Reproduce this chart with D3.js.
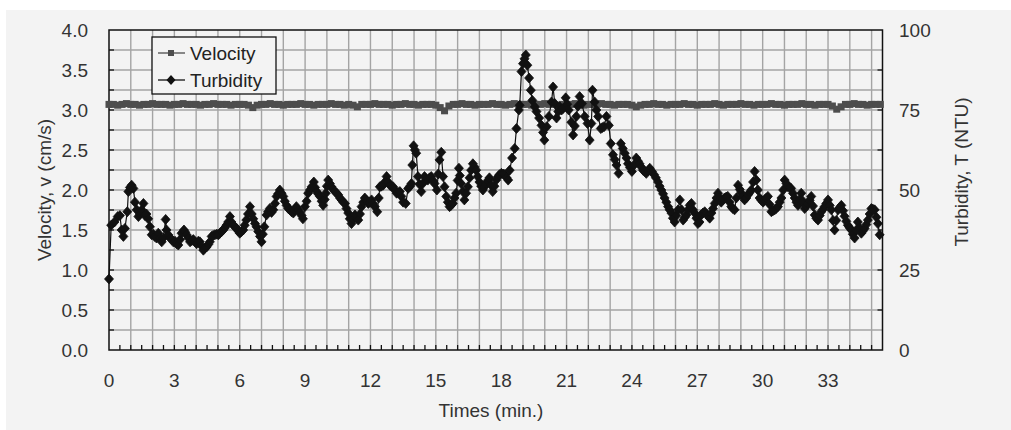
<!DOCTYPE html>
<html>
<head>
<meta charset="utf-8">
<script src="https://cdn.jsdelivr.net/npm/d3@7"></script>
<style>
  body { margin: 0; background: #fff; }
  svg text { font-family: "Liberation Sans", Arial, sans-serif; }
</style>
</head>
<body>
<svg id="chart"></svg>
<script>
// tick labels
const timeTicks = [0, 3, 6, 9, 12, 15, 18, 21, 24, 27, 30, 33];
const velocityTicks = [0, 0.5, 1, 1.5, 2, 2.5, 3, 3.5, 4];
const turbidityTicks = [0, 25, 50, 75, 100];

// velocity, sampled every 0.2 min
const velocityStart = 0;
const velocityStep = 0.2;
const velocityValues = [
  3.07, 3.07, 3.06, 3.07, 3.08, 3.07, 3.07, 3.06, 3.07, 3.07,
  3.08, 3.07, 3.07, 3.07, 3.06, 3.07, 3.07, 3.08, 3.07, 3.07,
  3.07, 3.06, 3.07, 3.07, 3.08, 3.07, 3.07, 3.07, 3.06, 3.07,
  3.07, 3.07, 3.06, 3.03, 3.06, 3.07, 3.07, 3.08, 3.07, 3.07,
  3.06, 3.07, 3.07, 3.07, 3.08, 3.07, 3.07, 3.06, 3.07, 3.07,
  3.07, 3.08, 3.07, 3.07, 3.06, 3.07, 3.06, 3.04, 3.07, 3.07,
  3.07, 3.08, 3.07, 3.07, 3.07, 3.06, 3.07, 3.07, 3.08, 3.07,
  3.07, 3.06, 3.07, 3.07, 3.07, 3.06, 3.03, 2.99, 3.05, 3.07,
  3.07, 3.08, 3.07, 3.07, 3.06, 3.07, 3.07, 3.07, 3.08, 3.07,
  3.07, 3.06, 3.07, 3.08, 3.07, 3.07, 3.07, 3.06, 3.07, 3.07,
  3.08, 3.07, 3.07, 3.06, 3.07, 3.07, 3.07, 3.08, 3.07, 3.06,
  3.07, 3.07, 3.07, 3.08, 3.07, 3.07, 3.06, 3.07, 3.07, 3.07,
  3.06, 3.04, 3.06, 3.07, 3.07, 3.08, 3.07, 3.07, 3.06, 3.07,
  3.07, 3.07, 3.08, 3.07, 3.07, 3.06, 3.07, 3.07, 3.07, 3.08,
  3.07, 3.06, 3.07, 3.07, 3.07, 3.08, 3.07, 3.07, 3.06, 3.07,
  3.07, 3.07, 3.08, 3.07, 3.07, 3.06, 3.07, 3.07, 3.07, 3.08,
  3.07, 3.07, 3.06, 3.07, 3.07, 3.07, 3.05, 3.01, 3.04, 3.07,
  3.07, 3.08, 3.07, 3.07, 3.06, 3.07, 3.07, 3.07
];

// turbidity (NTU)
const turbidityTimes = [
  0.0, 0.1, 0.25, 0.4, 0.5, 0.58, 0.66, 0.73, 0.84, 0.89, 0.96, 1.04, 1.12, 1.19, 1.27, 1.35, 1.42, 1.5, 1.58, 1.65,
  1.72, 1.8, 1.88, 1.96, 2.03, 2.1, 2.18, 2.26, 2.34, 2.42, 2.49, 2.6, 2.64, 2.72, 2.8, 2.88, 2.95, 3.03, 3.1, 3.18,
  3.26, 3.33, 3.44, 3.5, 3.56, 3.64, 3.72, 3.8, 3.87, 3.95, 4.02, 4.1, 4.17, 4.25, 4.33, 4.4, 4.48, 4.56, 4.63, 4.71,
  4.78, 4.86, 4.95, 5.02, 5.09, 5.17, 5.24, 5.32, 5.39, 5.47, 5.55, 5.62, 5.7, 5.78, 5.86, 5.93, 6.0, 6.08, 6.16, 6.23,
  6.3, 6.38, 6.47, 6.55, 6.62, 6.7, 6.77, 6.85, 6.93, 7.0, 7.06, 7.13, 7.23, 7.3, 7.38, 7.46, 7.54, 7.62, 7.69, 7.76,
  7.84, 7.92, 8.0, 8.07, 8.15, 8.23, 8.3, 8.38, 8.46, 8.53, 8.6, 8.68, 8.76, 8.84, 8.9, 8.99, 9.07, 9.14, 9.22, 9.3,
  9.4, 9.46, 9.53, 9.6, 9.68, 9.76, 9.83, 9.9, 9.95, 10.0, 10.06, 10.14, 10.21, 10.29, 10.37, 10.45, 10.52, 10.6, 10.67, 10.75,
  10.83, 10.9, 10.98, 11.05, 11.13, 11.21, 11.29, 11.36, 11.44, 11.52, 11.59, 11.67, 11.74, 11.82, 11.9, 11.97, 12.05, 12.12, 12.2, 12.31,
  12.38, 12.43, 12.5, 12.58, 12.66, 12.74, 12.81, 12.89, 12.96, 13.04, 13.12, 13.2, 13.27, 13.35, 13.42, 13.5, 13.62, 13.73, 13.82, 13.88,
  13.92, 13.98, 14.04, 14.1, 14.18, 14.25, 14.33, 14.4, 14.48, 14.56, 14.63, 14.71, 14.79, 14.86, 14.94, 15.05, 15.11, 15.17, 15.25, 15.33,
  15.4, 15.48, 15.55, 15.63, 15.7, 15.78, 15.86, 15.93, 16.0, 16.06, 16.1, 16.16, 16.24, 16.31, 16.39, 16.47, 16.55, 16.62, 16.7, 16.78,
  16.85, 16.92, 17.0, 17.08, 17.16, 17.23, 17.31, 17.39, 17.46, 17.54, 17.61, 17.69, 17.77, 17.86, 17.92, 18.01, 18.1, 18.17, 18.25, 18.32,
  18.39, 18.5, 18.62, 18.7, 18.81, 18.85, 18.93, 19.0, 19.07, 19.13, 19.2, 19.28, 19.36, 19.43, 19.54, 19.62, 19.74, 19.85, 19.92, 19.98,
  20.09, 20.19, 20.31, 20.38, 20.46, 20.54, 20.62, 20.69, 20.77, 20.84, 20.96, 21.03, 21.1, 21.22, 21.3, 21.38, 21.45, 21.52, 21.6, 21.71,
  21.83, 21.96, 22.06, 22.14, 22.19, 22.29, 22.37, 22.45, 22.57, 22.64, 22.72, 22.83, 22.94, 23.03, 23.13, 23.21, 23.29, 23.39, 23.49, 23.58,
  23.67, 23.75, 23.82, 23.91, 24.0, 24.1, 24.2, 24.28, 24.35, 24.43, 24.51, 24.58, 24.66, 24.74, 24.82, 24.92, 25.02, 25.1, 25.2, 25.27,
  25.35, 25.43, 25.5, 25.58, 25.66, 25.73, 25.81, 25.88, 25.96, 26.04, 26.12, 26.2, 26.28, 26.35, 26.43, 26.5, 26.58, 26.65, 26.73, 26.8,
  26.88, 26.96, 27.03, 27.1, 27.18, 27.26, 27.34, 27.42, 27.5, 27.57, 27.65, 27.72, 27.8, 27.88, 27.95, 28.03, 28.1, 28.18, 28.25, 28.33,
  28.4, 28.48, 28.56, 28.63, 28.71, 28.79, 28.87, 28.95, 29.02, 29.1, 29.17, 29.25, 29.33, 29.4, 29.48, 29.56, 29.63, 29.71, 29.78, 29.86,
  29.94, 30.02, 30.1, 30.17, 30.24, 30.32, 30.4, 30.47, 30.55, 30.62, 30.7, 30.78, 30.86, 30.94, 31.01, 31.09, 31.16, 31.24, 31.31, 31.39,
  31.47, 31.55, 31.62, 31.7, 31.77, 31.85, 31.93, 32.0, 32.08, 32.16, 32.23, 32.31, 32.39, 32.46, 32.54, 32.62, 32.69, 32.77, 32.84, 32.92,
  33.0, 33.08, 33.15, 33.23, 33.3, 33.38, 33.46, 33.53, 33.61, 33.69, 33.76, 33.84, 33.91, 33.99, 34.07, 34.14, 34.22, 34.3, 34.37, 34.45,
  34.53, 34.6, 34.68, 34.76, 34.83, 34.91, 34.99, 35.06, 35.14, 35.22, 35.29, 35.37
];
const turbidityValues = [
  22.2, 39.0, 40.0, 41.7, 42.0, 37.5, 35.5, 38.0, 43.2, 49.5, 50.8, 51.5, 50.5, 46.2, 43.8, 41.7, 42.5, 43.8, 45.8, 42.0,
  42.5, 41.0, 38.5, 36.0, 36.2, 35.5, 35.0, 36.5, 35.0, 33.8, 35.0, 40.8, 37.5, 36.0, 35.0, 34.5, 33.8, 34.0, 33.2, 32.8,
  34.5, 36.5, 37.5, 36.8, 36.0, 35.0, 33.8, 34.2, 34.5, 33.8, 33.2, 34.0, 33.8, 32.5, 31.2, 31.8, 32.2, 33.0, 33.8, 35.5,
  35.8, 36.0, 36.2, 36.0, 36.5, 37.0, 37.5, 38.2, 39.0, 40.0, 41.7, 40.0, 39.0, 38.5, 38.0, 37.2, 36.5, 37.0, 37.5, 39.0,
  40.6, 42.5, 44.8, 42.5, 41.0, 39.5, 38.5, 37.0, 35.5, 33.8, 36.2, 38.5, 42.2, 43.2, 44.2, 43.0, 43.8, 45.8, 48.0, 48.8,
  50.0, 49.0, 48.0, 46.5, 45.2, 44.2, 43.8, 43.2, 42.8, 44.0, 44.8, 43.8, 43.0, 42.0, 41.0, 44.8, 46.5, 49.0, 50.0, 51.0,
  52.5, 50.8, 49.5, 48.8, 48.0, 46.5, 45.2, 47.0, 49.0, 51.2, 53.1, 52.0, 51.0, 50.2, 49.5, 49.0, 48.5, 47.5, 46.9, 46.2,
  45.8, 44.2, 42.8, 41.0, 39.5, 41.0, 42.2, 41.2, 40.6, 42.5, 44.8, 46.2, 47.5, 46.8, 45.8, 46.2, 46.9, 45.8, 44.8, 43.2,
  47.5, 51.0, 51.2, 51.5, 52.5, 54.2, 52.5, 51.5, 51.2, 51.0, 50.0, 49.0, 49.2, 49.5, 48.0, 46.2, 45.8, 50.5, 51.2, 52.0,
  57.8, 63.8, 62.5, 61.5, 54.2, 51.8, 49.5, 52.0, 54.2, 53.5, 53.1, 53.8, 54.2, 53.0, 52.0, 50.0, 55.0, 59.4, 61.8, 54.2,
  51.0, 48.0, 46.2, 44.8, 45.2, 45.8, 47.5, 49.0, 53.0, 56.8, 54.5, 52.0, 49.5, 46.9, 49.0, 51.0, 53.8, 56.2, 58.2, 57.2,
  56.2, 54.2, 52.5, 51.2, 50.0, 51.0, 52.0, 53.0, 53.8, 51.5, 49.5, 51.2, 53.1, 54.2, 54.8, 55.2, 55.0, 54.8, 53.8, 53.1,
  56.2, 60.0, 63.0, 69.2, 75.0, 76.5, 87.0, 89.5, 91.0, 92.2, 89.0, 85.0, 81.2, 78.0, 76.0, 74.5, 72.5, 70.2, 68.0, 65.6,
  69.8, 73.0, 77.5, 82.2, 77.0, 72.5, 74.5, 76.0, 75.0, 75.5, 78.8, 76.8, 75.0, 71.2, 67.2, 70.0, 73.0, 76.2, 79.2, 77.0,
  73.0, 70.8, 65.6, 70.8, 81.2, 77.5, 75.0, 73.0, 69.2, 69.5, 69.8, 73.0, 70.2, 64.5, 61.0, 59.5, 57.8, 55.2, 64.5, 63.0,
  61.5, 60.0, 58.2, 57.0, 55.8, 57.8, 60.0, 59.0, 58.2, 57.2, 56.2, 55.8, 55.2, 56.0, 56.8, 55.8, 54.8, 53.8, 52.5, 51.2,
  50.0, 48.8, 47.5, 46.2, 44.8, 43.8, 42.8, 41.2, 40.0, 42.0, 43.8, 46.9, 43.8, 40.6, 41.5, 42.2, 43.8, 45.2, 45.8, 43.8,
  42.8, 41.2, 39.5, 40.0, 42.2, 42.8, 43.2, 42.5, 41.8, 41.2, 42.8, 44.2, 45.8, 47.5, 49.0, 47.5, 46.2, 47.0, 47.5, 47.8,
  48.0, 46.2, 44.8, 44.2, 43.8, 47.5, 51.5, 50.2, 49.0, 48.0, 46.9, 47.5, 48.5, 49.2, 50.0, 52.5, 55.8, 53.1, 50.0, 47.5,
  46.8, 46.2, 47.0, 47.5, 48.0, 45.5, 43.2, 43.5, 43.8, 44.2, 44.8, 46.2, 47.5, 50.0, 53.1, 52.0, 51.0, 50.8, 50.5, 49.0,
  47.5, 46.2, 45.2, 47.0, 49.0, 46.5, 44.2, 45.0, 45.8, 46.8, 48.0, 45.0, 42.2, 41.2, 40.6, 42.0, 43.2, 44.0, 44.8, 45.8,
  46.9, 45.2, 43.8, 40.5, 37.5, 40.5, 43.8, 44.5, 45.2, 43.5, 41.8, 40.2, 39.0, 38.2, 37.5, 36.2, 35.0, 37.5, 40.0, 38.2,
  36.5, 37.2, 38.0, 39.2, 40.6, 42.5, 44.2, 44.0, 43.8, 41.5, 39.5, 36.0
];

const legendItems = ["Velocity", "Turbidity"];

class VelocityTurbidityChart {
  constructor() {
    this.width = 1011;
    this.height = 430;
    this.x = d3.scaleLinear().domain([0, 35.5]).range([109, 882.5]);
    this.yLeft = d3.scaleLinear().domain([0, 4]).range([350, 30]);
    this.yRight = d3.scaleLinear().domain([0, 100]).range([350, 30]);
    this.svg = d3.select("svg#chart")
      .attr("width", this.width)
      .attr("height", this.height);
    this.diamond = "M0,-5L4.5,0L0,5L-4.5,0Z";
  }

  drawFrame() {
    let that = this;
    let svg = this.svg;

    // grey panel, thin white strip left/top like the screenshot
    svg.append("rect")
      .attr("x", 6).attr("y", 10)
      .attr("width", this.width - 6).attr("height", this.height - 10)
      .attr("fill", "#f3f3f3");

    let x0 = this.x.range()[0], x1 = this.x.range()[1];
    let y0 = this.yLeft.range()[0], y1 = this.yLeft.range()[1];

    // gridlines: every minute, every 0.25 cm/s
    let grid = svg.append("g").attr("stroke", "#a4a4a4").attr("stroke-width", 1.4);
    grid.selectAll("line.vgrid")
      .data(d3.range(1, 36))
      .join("line")
      .attr("x1", d => that.x(d)).attr("x2", d => that.x(d))
      .attr("y1", y1).attr("y2", y0);
    grid.selectAll("line.hgrid")
      .data(d3.range(1, 16).map(d => d * 0.25))
      .join("line")
      .attr("x1", x0).attr("x2", x1)
      .attr("y1", d => that.yLeft(d)).attr("y2", d => that.yLeft(d));

    // inward tick marks
    let ticks = svg.append("g").attr("stroke", "#111").attr("stroke-width", 1.3);
    ticks.selectAll("line.bt")
      .data(d3.range(1, 71).map(d => d * 0.5))
      .join("line")
      .attr("x1", d => that.x(d)).attr("x2", d => that.x(d))
      .attr("y1", y0).attr("y2", y0 - 5);
    ticks.selectAll("line.lt")
      .data(d3.range(1, 16).map(d => d * 0.25))
      .join("line")
      .attr("x1", x0).attr("x2", x0 + 5)
      .attr("y1", d => that.yLeft(d)).attr("y2", d => that.yLeft(d));
    ticks.selectAll("line.rt")
      .data(d3.range(1, 8).map(d => d * 12.5))
      .join("line")
      .attr("x1", x1).attr("x2", x1 - 5)
      .attr("y1", d => that.yRight(d)).attr("y2", d => that.yRight(d));

    svg.append("rect")
      .attr("x", x0).attr("y", y1)
      .attr("width", x1 - x0).attr("height", y0 - y1)
      .attr("fill", "none")
      .attr("stroke", "#111")
      .attr("stroke-width", 1.5);
  }

  drawAxes() {
    let that = this;
    let svg = this.svg;
    let fs = 19;

    svg.append("g").selectAll("text")
      .data(timeTicks)
      .join("text")
      .attr("x", d => that.x(d))
      .attr("y", 387)
      .attr("text-anchor", "middle")
      .attr("font-size", fs)
      .attr("fill", "#333")
      .text(d => d);

    svg.append("g").selectAll("text")
      .data(velocityTicks)
      .join("text")
      .attr("x", 88)
      .attr("y", d => that.yLeft(d) + 7)
      .attr("text-anchor", "end")
      .attr("font-size", fs)
      .attr("fill", "#333")
      .text(d => d3.format(".1f")(d));

    svg.append("g").selectAll("text")
      .data(turbidityTicks)
      .join("text")
      .attr("x", 899)
      .attr("y", d => that.yRight(d) + 7)
      .attr("text-anchor", "start")
      .attr("font-size", fs)
      .attr("fill", "#333")
      .text(d => d);

    svg.append("text")
      .attr("x", 491).attr("y", 417)
      .attr("text-anchor", "middle")
      .attr("font-size", fs)
      .attr("fill", "#333")
      .text("Times (min.)");

    svg.append("text")
      .attr("transform", "translate(51,190) rotate(-90)")
      .attr("text-anchor", "middle")
      .attr("font-size", fs)
      .attr("fill", "#333")
      .text("Velocity, v (cm/s)");

    svg.append("text")
      .attr("transform", "translate(968,172) rotate(-90)")
      .attr("text-anchor", "middle")
      .attr("font-size", fs)
      .attr("fill", "#333")
      .text("Turbidity, T (NTU)");
  }

  drawSeries() {
    let that = this;
    let svg = this.svg;

    let velocity = velocityValues.map((v, i) => ({ t: velocityStart + i * velocityStep, v: v }));
    let turbidity = turbidityTimes.map((t, i) => ({ t: t, v: turbidityValues[i] }));

    let vLine = d3.line().x(d => that.x(d.t)).y(d => that.yLeft(d.v));
    let tLine = d3.line().x(d => that.x(d.t)).y(d => that.yRight(d.v));

    svg.append("path")
      .datum(velocity)
      .attr("d", vLine)
      .attr("fill", "none")
      .attr("stroke", "#4d4d4d")
      .attr("stroke-width", 2);
    svg.append("g").selectAll("rect")
      .data(velocity)
      .join("rect")
      .attr("x", d => that.x(d.t) - 3.5)
      .attr("y", d => that.yLeft(d.v) - 3.5)
      .attr("width", 7).attr("height", 7)
      .attr("fill", "#4d4d4d");

    svg.append("path")
      .datum(turbidity)
      .attr("d", tLine)
      .attr("fill", "none")
      .attr("stroke", "#111")
      .attr("stroke-width", 1.2);
    svg.append("g").selectAll("path")
      .data(turbidity)
      .join("path")
      .attr("d", this.diamond)
      .attr("transform", d => "translate(" + that.x(d.t) + "," + that.yRight(d.v) + ")")
      .attr("fill", "#111")
      .attr("stroke", "#111")
      .attr("stroke-width", 0.8);
  }

  drawLegend() {
    let svg = this.svg;
    let that = this;
    let g = svg.append("g").attr("transform", "translate(152,37)");

    g.append("rect")
      .attr("width", 124).attr("height", 57)
      .attr("fill", "#f3f3f3")
      .attr("stroke", "#111")
      .attr("stroke-width", 1.3);

    let rows = g.selectAll("g.item")
      .data(legendItems)
      .join("g")
      .attr("transform", (d, i) => "translate(0," + (16 + i * 27) + ")");

    rows.append("line")
      .attr("x1", 6).attr("x2", 33)
      .attr("stroke", (d, i) => i == 0 ? "#4d4d4d" : "#111")
      .attr("stroke-width", 1.3);

    rows.append("path")
      .attr("d", (d, i) => i == 0 ? "M-3,-3H3V3H-3Z" : that.diamond)
      .attr("transform", "translate(19,0)")
      .attr("fill", (d, i) => i == 0 ? "#4d4d4d" : "#111");

    rows.append("text")
      .attr("x", 38).attr("y", 7)
      .attr("font-size", 19)
      .attr("fill", "#222")
      .text(d => d);
  }
}

let chart = new VelocityTurbidityChart();
chart.drawFrame();
chart.drawSeries();
chart.drawAxes();
chart.drawLegend();
</script>
</body>
</html>
